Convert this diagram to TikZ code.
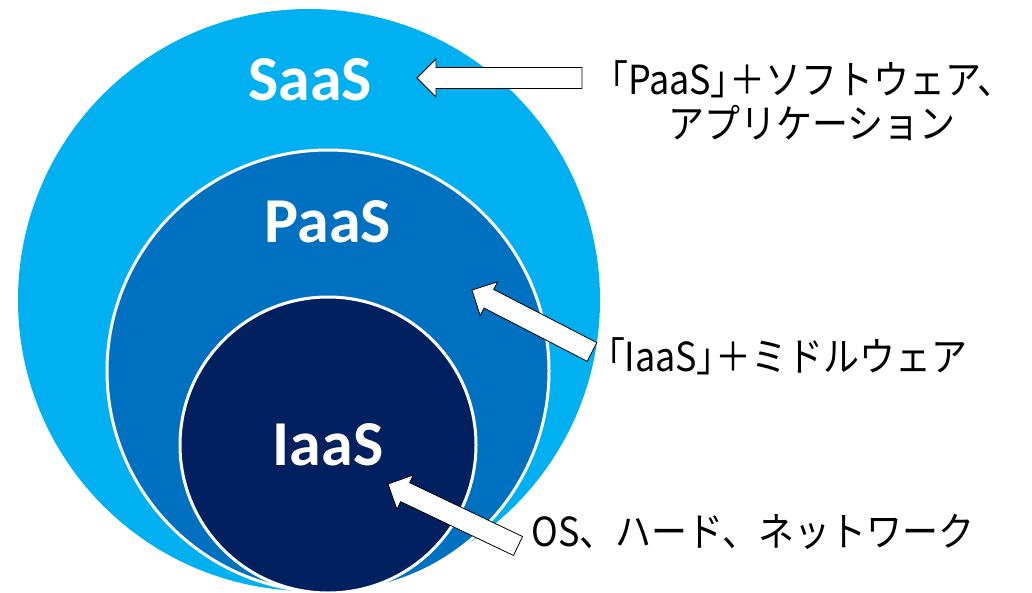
\documentclass[tikz,border=0pt]{standalone}
\usepackage{fontspec}
\usetikzlibrary{calc}

\newfontfamily\layerfont{Carlito}
\newfontfamily\jpfont[FakeStretch=0.9]{Noto Sans CJK JP}
\newcommand\tightbr[1]{{\addfontfeature{RawFeature=+palt}#1}}

\definecolor{saasblue}{HTML}{00B0F0}
\definecolor{paasblue}{HTML}{0070C0}
\definecolor{iaasblue}{HTML}{002060}

\tikzset{
  layer/.style={circle, draw=white, line width=3pt, inner sep=0pt},
  layertext/.style={text=white, font=\layerfont\bfseries\fontsize{64}{70}\selectfont},
  note/.style={font=\jpfont\fontsize{40}{44}\selectfont, align=center, text=black},
  blockarrow/.style={fill=white, draw=black, line width=0.8pt, line join=miter}
}

% block arrow from tail #1 to tip #2
\newcommand\drawblock[2]{%
  \coordinate (hb) at ($(#2)!19pt!(#1)$);
  \draw[blockarrow] ($(#1)!10.5pt!90:(#2)$) -- ($(hb)!10.5pt!90:(#2)$)
    -- ($(hb)!19pt!90:(#2)$) -- (#2) -- ($(hb)!19pt!-90:(#2)$)
    -- ($(hb)!10.5pt!-90:(#2)$) -- ($(#1)!10.5pt!-90:(#2)$) -- cycle;}

\begin{document}
\begin{tikzpicture}[x=1pt, y=-1pt]
  \useasboundingbox[fill=white] (0,0) rectangle (1032,593);
  \clip (0,0) rectangle (1032,593);

  % Layers
  \node[layer, draw=none, fill=saasblue, minimum size=582pt] (saas) at (309,300) {};
  \node[layer, fill=paasblue, minimum size=442pt] (paas) at (328,371) {};
  \node[layer, fill=iaasblue, minimum size=296pt] (iaas) at (328,445) {};

  \node[layertext] (saaslbl) at (310,80) {SaaS};
  \node[layertext] (paaslbl) at (328,222) {PaaS};
  \node[layertext] (iaaslbl) at (328,445) {IaaS};

  % Notes
  \node[note] (saasnote) at (812,101) {\tightbr{「}PaaS\tightbr{」}＋ソフトウェア、\\アプリケーション};
  \node[note] (paasnote) at (787,356) {\tightbr{「}IaaS\tightbr{」}＋ミドルウェア};
  \node[note] (iaasnote) at (753,532) {OS、ハード、ネットワーク};

  % Arrows
  \coordinate (s1) at (582,78);
  \coordinate (e1) at (417,78);
  \coordinate (s2) at (592,352);
  \coordinate (e2) at (472,290);
  \coordinate (s3) at (518,546);
  \coordinate (e3) at (388,484);

  \drawblock{s1}{e1}
  \drawblock{s2}{e2}
  \drawblock{s3}{e3}
\end{tikzpicture}
\end{document}
